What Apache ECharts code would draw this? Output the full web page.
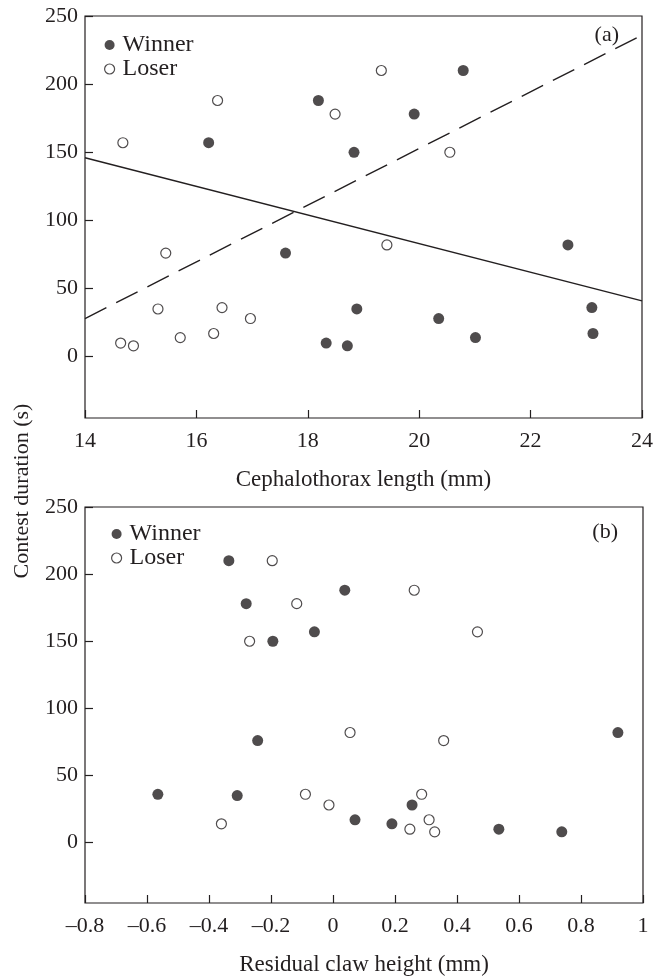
<!DOCTYPE html>
<html><head><meta charset="utf-8">
<script src="https://cdn.jsdelivr.net/npm/echarts@6/dist/echarts.min.js"></script>
<style>html,body{margin:0;padding:0;background:#fff}#c{width:656px;height:977px}</style>
</head><body><div id="c"></div>
<script>
// Panel (a): cephalothorax length (mm) vs contest duration (s)
const winnerA = [[16.22,157],[18.19,188],[18.83,150],[20.79,210],[19.91,178],[17.60,76],[18.33,10],[18.71,8],[18.88,35],[22.67,82],[20.35,28],[21.01,14],[23.10,36],[23.12,17]];
const loserA = [[14.68,157],[16.38,188],[18.49,178],[19.32,210],[20.55,150],[15.45,76],[15.31,35],[16.46,36],[16.97,28],[14.64,10],[14.87,8],[15.71,14],[16.31,17],[19.42,82]];
const solidFitA = [[14,146],[24,41]];
const dashedFitA = [[14,28],[24,236]];
// Panel (b): residual claw height (mm) vs contest duration (s)
const winnerB = [[-0.336,210],[-0.280,178],[0.038,188],[-0.060,157],[-0.194,150],[-0.565,36],[-0.243,76],[-0.309,35],[0.071,17],[0.919,82],[0.255,28],[0.190,14],[0.535,10],[0.738,8]];
const loserB = [[-0.196,210],[-0.117,178],[-0.269,150],[0.262,188],[0.466,157],[-0.360,14],[-0.089,36],[-0.013,28],[0.055,82],[0.357,76],[0.286,36],[0.248,10],[0.310,17],[0.328,8]];
const yTicks = [0,50,100,150,200,250];
const xTicksA = [14,16,18,20,22,24];
const xTicksB = [-0.8,-0.6,-0.4,-0.2,0,0.2,0.4,0.6,0.8,1];

const INK = '#231f20';
const FONT = "'Liberation Serif','DejaVu Serif',serif";
const FS = 22;

function yAxis(gi){
  return {type:'value', gridIndex:gi, min:-45, max:250,
    axisLine:{show:false, onZero:false}, splitLine:{show:false},
    axisTick:{show:true, inside:true, length:8, customValues:yTicks, lineStyle:{color:INK, width:1.2}},
    axisLabel:{customValues:yTicks, margin:7, color:INK, fontFamily:FONT, fontSize:FS}};
}
function xAxis(gi, min, max, interval, name, fmt){
  return {type:'value', gridIndex:gi, min:min, max:max, interval:interval,
    name:name, nameLocation:'middle', nameGap:50,
    nameTextStyle:{color:INK, fontFamily:FONT, fontSize:23},
    axisLine:{show:false, onZero:false}, splitLine:{show:false},
    axisTick:{show:true, inside:true, length:8, lineStyle:{color:INK, width:1.2}},
    axisLabel:{margin:12, color:INK, fontFamily:FONT, fontSize:FS, showMinLabel:true, showMaxLabel:true, formatter:fmt}};
}
const fmtB = v => { const r = Math.round(v*10)/10; return (r<0? '\u2013'+Math.abs(r) : String(r)); };

const filled = {color:INK};
const open = {color:'#fff', borderColor:INK, borderWidth:1.2};

function legend(left, top){
  return {orient:'vertical', left:left, top:top, itemWidth:10, itemHeight:10, itemGap:0,
    textStyle:{color:INK, fontFamily:FONT, fontSize:24, lineHeight:23, padding:[0,0,0,3]},
    data:[{name:'Winner', icon:'circle', itemStyle:filled},
          {name:'Loser', icon:'circle', itemStyle:open}]};
}

const chart = echarts.init(document.getElementById('c'), null, {renderer:'canvas'});
chart.setOption({
  animation:false,
  backgroundColor:'#fff',
  grid:[
    {left:85, right:13, top:16, height:402, show:true, borderColor:INK, borderWidth:1.2, backgroundColor:'transparent'},
    {left:85, right:13, top:507, height:404, show:true, borderColor:INK, borderWidth:1.2, backgroundColor:'transparent'}
  ],
  xAxis:[
    xAxis(0, 14, 24, 2, 'Cephalothorax length (mm)', v => String(v)),
    xAxis(1, -0.8, 1, 0.2, 'Residual claw height (mm)', fmtB)
  ],
  yAxis:[yAxis(0), yAxis(1)],
  legend:[legend(99, 28), legend(106, 517)],
  graphic:[
    {type:'text', x:22, y:491, rotation:Math.PI/2,
      style:{text:'Contest duration (s)', x:0, y:0, align:'center', verticalAlign:'middle', fill:INK, font:FS+'px '+FONT}},
    {type:'text', x:619, y:35, style:{text:'(a)', align:'right', verticalAlign:'middle', fill:INK, font:FS+'px '+FONT}},
    {type:'text', x:618, y:532, style:{text:'(b)', align:'right', verticalAlign:'middle', fill:INK, font:FS+'px '+FONT}}
  ],
  series:[
    {type:'line', xAxisIndex:0, yAxisIndex:0, data:solidFitA, symbol:'none', silent:true,
      lineStyle:{color:INK, width:1.4, type:'solid'}},
    {type:'line', xAxisIndex:0, yAxisIndex:0, data:dashedFitA, symbol:'none', silent:true,
      lineStyle:{color:INK, width:1.4, type:[24,11]}},
    {name:'Winner', type:'scatter', xAxisIndex:0, yAxisIndex:0, data:winnerA, symbol:'circle', symbolSize:11, itemStyle:filled},
    {name:'Loser', type:'scatter', xAxisIndex:0, yAxisIndex:0, data:loserA, symbol:'circle', symbolSize:10, itemStyle:open},
    {name:'Winner', type:'scatter', xAxisIndex:1, yAxisIndex:1, data:winnerB, symbol:'circle', symbolSize:11, itemStyle:filled},
    {name:'Loser', type:'scatter', xAxisIndex:1, yAxisIndex:1, data:loserB, symbol:'circle', symbolSize:10, itemStyle:open}
  ]
});
</script>
</body></html>
